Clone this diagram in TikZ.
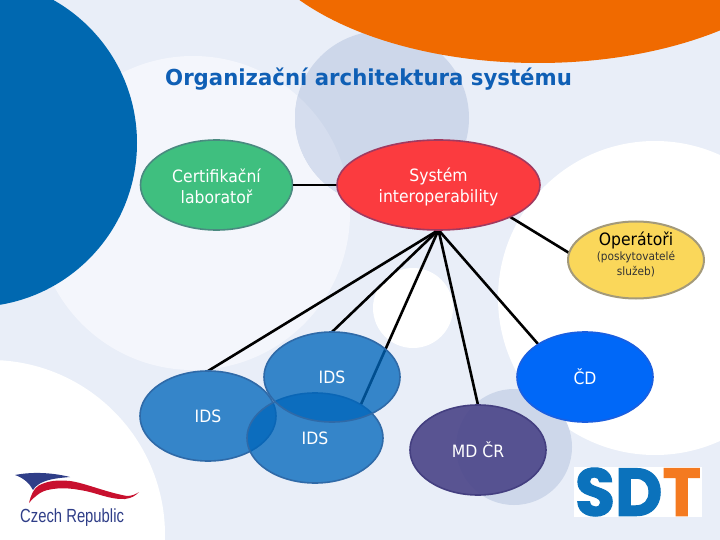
\documentclass[tikz,border=0pt]{standalone}
\usepackage{fontspec}
\setmainfont{DejaVu Sans}[FakeStretch=0.92]
\newfontfamily\titlefont{DejaVu Sans}[FakeStretch=0.966]
\newfontfamily\logofont{Liberation Sans}[FakeStretch=0.78]
\newfontfamily\sdtfont{Poppins}[BoldFeatures={FakeBold=1.5}]
\usetikzlibrary{shapes.geometric}
\definecolor{basebg}{HTML}{E9EEF8}
\definecolor{palebg}{HTML}{F4F6FC}
\definecolor{discbg}{HTML}{CDD7EA}
\definecolor{disclt}{HTML}{D5DDEE}
\definecolor{bluebig}{HTML}{0068B0}
\definecolor{orangebig}{HTML}{F06A00}
\definecolor{titleblue}{HTML}{0F5FB5}
\definecolor{idsfill}{HTML}{0066BB}
\definecolor{idsline}{HTML}{2F6AA8}
\definecolor{mdfill}{HTML}{4A4488}
\definecolor{mdline}{HTML}{443F80}
\definecolor{logoblue}{HTML}{2F3E88}
\definecolor{logored}{HTML}{C8102E}
\definecolor{sdtblue}{HTML}{0B72BC}
\definecolor{sdtorange}{HTML}{F47A20}
\tikzset{
  x=1pt,y=-1pt,
  oval/.style={ellipse,inner sep=0pt,outer sep=0pt,align=center,font=\fontsize{17}{21}\selectfont,text=white,line width=1.6pt},
  ids/.style={oval,minimum width=136pt,minimum height=90pt,fill=idsfill,fill opacity=.77,draw=idsline,text opacity=1},
  link/.style={line width=2.6pt,black},
}
\begin{document}
\begin{tikzpicture}
\useasboundingbox (0,0) rectangle (720,540);
\fill[basebg] (0,0) rectangle (720,540);
\begin{scope}
\clip (0,0) rectangle (720,540);
\fill[white] (-10,535) circle[radius=175];
\fill[palebg] (193,213) circle[radius=157];
\fill[white] (413,308) circle[radius=40];
\fill[white] (655,298) circle[radius=157];
\fill[discbg] (382,118) circle[radius=87];
\begin{scope}
\clip (193,213) circle[radius=157];
\fill[disclt] (382,118) circle[radius=87];
\end{scope}
\fill[discbg] (514,447) circle[radius=58];
\fill[bluebig] (-27,143) circle[radius=164];
\fill[orangebig] (538,-90) ellipse[x radius=295,y radius=153];
\end{scope}
\node[inner sep=0pt,anchor=base west,text=titleblue,font=\titlefont\bfseries\fontsize{22}{26}\selectfont] (title) at (165,86) {Organizační architektura systému};
% nodes
\node[oval,minimum width=152pt,minimum height=90pt,fill={rgb,255:red,63;green,191;blue,127},draw={rgb,255:red,74;green,138;blue,128}] (cert) at (216.5,185) {\rule{0pt}{15.5pt}Certifikační\\laboratoř};
\path node[oval,minimum width=203pt,minimum height=90pt] (sys0) at (438.5,185) {};
\path node[oval,minimum width=136pt,minimum height=77pt] (ops0) at (636,260) {};
\path node[oval,minimum width=136pt,minimum height=90pt] (ids1p) at (208,416) {};
\path node[oval,minimum width=136pt,minimum height=90pt] (ids2p) at (332,377) {};
\path node[oval,minimum width=136pt,minimum height=90pt] (ids3p) at (315,438) {};
\path node[oval,minimum width=136pt,minimum height=90pt] (cdp) at (585,377) {};
\path node[oval,minimum width=136pt,minimum height=90pt] (mdp) at (478,450) {};
% connectors
\draw[link] (cert.east) -- (sys0.west);
\draw[link] (sys0.south) -- (ids1p.north);
\draw[link] (sys0.south) -- (ids2p.north);
\draw[link] (sys0.south) -- (ids3p.36);
\draw[link] (sys0.south) -- (mdp.north);
\draw[link] (sys0.south) -- (cdp.145);
\draw[link] (sys0.-24) -- (ops0.174);
% ovals
\node[oval,minimum width=203pt,minimum height=90pt,fill={rgb,255:red,251;green,59;blue,63},draw={rgb,255:red,160;green,58;blue,96}] (sys) at (438.5,185) {\rule{0pt}{17pt}Systém\\interoperability};
\node[oval,minimum width=136pt,minimum height=77pt,fill={rgb,255:red,250;green,215;blue,90},draw={rgb,255:red,164;green,154;blue,122},line width=2pt] (ops) at (636,260) {};
\node[inner sep=0pt,align=center,text=black,font=\fontsize{17}{18}\selectfont] (opstitle) at (636,240) {Operátoři};
\node[inner sep=0pt,align=center,text=black!80,font=\fontsize{11.5}{15}\selectfont] (opssub) at (636,264.5) {(poskytovatelé\\služeb)};
\node[ids] (ids1) at (208,416) {IDS};
\node[ids] (ids3) at (315,438) {IDS};
\node[ids] (ids2) at (332,377) {IDS};
\node[oval,minimum width=136pt,minimum height=90pt,fill={rgb,255:red,0;green,104;blue,248},draw={rgb,255:red,26;green,95;blue,224}] (cd) at (585,377) {ČD};
\node[oval,minimum width=136pt,minimum height=90pt,fill=mdfill,fill opacity=.9,text opacity=1,draw=mdline] (md) at (478,450) {MD ČR};
% Czech Republic logo
\fill[logoblue] (15,475) .. controls (30,472) and (50,472) .. (70,477) .. controls (58,478) and (50,479) .. (43,482) .. controls (38,484) and (35,487) .. (33,490) .. controls (30,484) and (24,478) .. (15,475) -- cycle;
\fill[logored] (29,503) .. controls (31,495) and (33,490) .. (38,486) .. controls (48,480) and (60,480) .. (70,481) .. controls (85,483) and (105,492) .. (127,496) .. controls (132,496) and (136,494) .. (139,492) .. controls (135,496) and (132,498) .. (125,499) .. controls (110,500) and (95,492) .. (80,490) .. controls (65,487) and (48,488) .. (40,493) .. controls (36,496) and (32,499) .. (29,503) -- cycle;
\node[inner sep=0pt,anchor=base west,text=logoblue,font=\logofont\fontsize{19}{22}\selectfont] (czech) at (20,522) {Czech Republic};
% SDT logo
\node[fill=white,minimum width=128pt,minimum height=50pt,inner sep=0pt] (sdtbox) at (638,492) {};
\node[inner sep=0pt] (sdt) at (638,492) {\resizebox{126pt}{48pt}{\sdtfont\bfseries\color{sdtblue}SD\color{sdtorange}T}};
\end{tikzpicture}
\end{document}
